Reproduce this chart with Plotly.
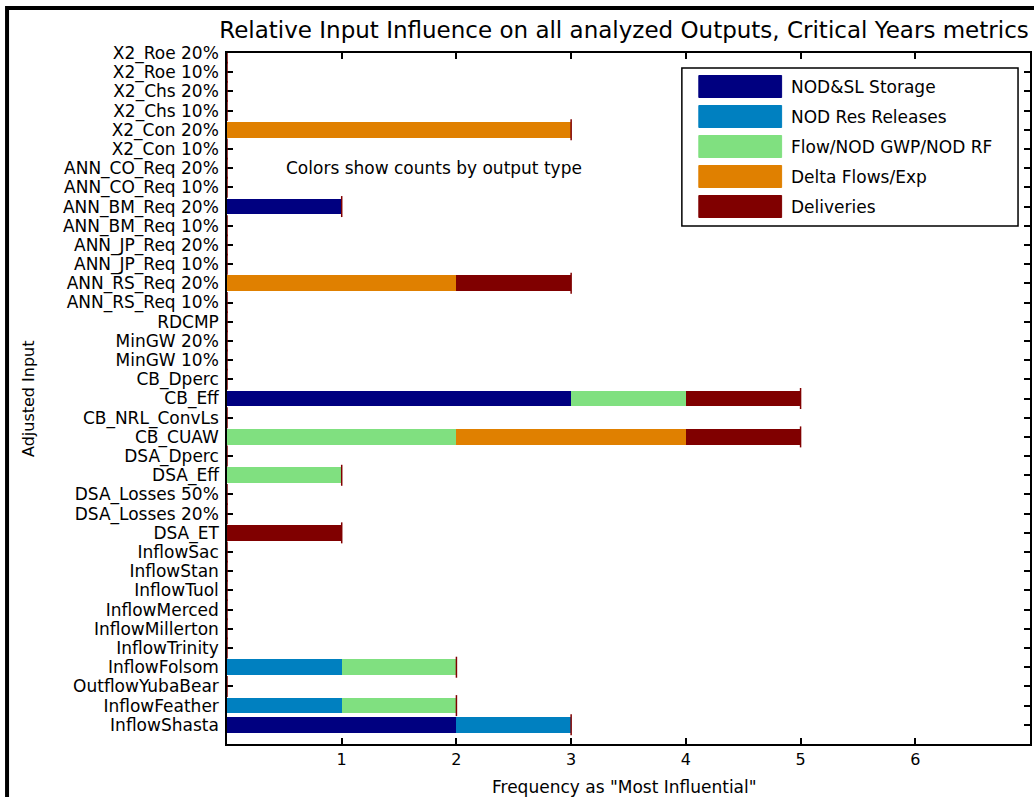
import plotly.graph_objects as go

# Adjusted inputs, listed top to bottom as they appear on the axis
inputs = [
    "X2_Roe 20%", "X2_Roe 10%", "X2_Chs 20%", "X2_Chs 10%", "X2_Con 20%", "X2_Con 10%",
    "ANN_CO_Req 20%", "ANN_CO_Req 10%", "ANN_BM_Req 20%", "ANN_BM_Req 10%",
    "ANN_JP_Req 20%", "ANN_JP_Req 10%", "ANN_RS_Req 20%", "ANN_RS_Req 10%",
    "RDCMP", "MinGW 20%", "MinGW 10%", "CB_Dperc", "CB_Eff", "CB_NRL_ConvLs", "CB_CUAW",
    "DSA_Dperc", "DSA_Eff", "DSA_Losses 50%", "DSA_Losses 20%", "DSA_ET",
    "InflowSac", "InflowStan", "InflowTuol", "InflowMerced", "InflowMillerton",
    "InflowTrinity", "InflowFolsom", "OutflowYubaBear", "InflowFeather", "InflowShasta",
]

# Counts of "most influential" per output type
storage = [0, 0, 0, 0, 0, 0, 0, 0, 1, 0, 0, 0, 0, 0, 0, 0, 0, 0, 3, 0, 0,
           0, 0, 0, 0, 0, 0, 0, 0, 0, 0, 0, 0, 0, 0, 2]
res_releases = [0, 0, 0, 0, 0, 0, 0, 0, 0, 0, 0, 0, 0, 0, 0, 0, 0, 0, 0, 0, 0,
                0, 0, 0, 0, 0, 0, 0, 0, 0, 0, 0, 1, 0, 1, 1]
flow_gwp_rf = [0, 0, 0, 0, 0, 0, 0, 0, 0, 0, 0, 0, 0, 0, 0, 0, 0, 0, 1, 0, 2,
               0, 1, 0, 0, 0, 0, 0, 0, 0, 0, 0, 1, 0, 1, 0]
delta_flows = [0, 0, 0, 0, 3, 0, 0, 0, 0, 0, 0, 0, 2, 0, 0, 0, 0, 0, 0, 0, 2,
               0, 0, 0, 0, 0, 0, 0, 0, 0, 0, 0, 0, 0, 0, 0]
deliveries = [0, 0, 0, 0, 0, 0, 0, 0, 0, 0, 0, 0, 1, 0, 0, 0, 0, 0, 1, 0, 1,
              0, 0, 0, 0, 1, 0, 0, 0, 0, 0, 0, 0, 0, 0, 0]

series_names = ["NOD&SL Storage", "NOD Res Releases", "Flow/NOD GWP/NOD RF",
                "Delta Flows/Exp", "Deliveries"]
series_values = [storage, res_releases, flow_gwp_rf, delta_flows, deliveries]
series_colors = ["#000080", "#0080C0", "#80E080", "#E08000", "#800000"]

x_ticks = [1, 2, 3, 4, 5, 6]

FONT = "DejaVu Sans"

fig = go.Figure()
for name, vals, col in zip(series_names, series_values, series_colors):
    fig.add_trace(go.Bar(
        x=vals, y=inputs, orientation="h", name=name,
        marker=dict(color=col, line=dict(width=0)),
        width=0.82, showlegend=False,
    ))

# Edge of the last (Deliveries) segment at the end of every stack
totals = [sum(v) for v in zip(*series_values)]
fig.add_trace(go.Scatter(
    x=totals, y=inputs, mode="markers", showlegend=False, hoverinfo="skip",
    marker=dict(symbol="line-ns", size=15, line=dict(width=1.5, color=series_colors[-1])),
    cliponaxis=True,
))

fig.update_layout(
    width=1034, height=797,
    margin=dict(l=227, r=2, t=53, b=53),
    paper_bgcolor="white", plot_bgcolor="white",
    barmode="stack",
    font=dict(family=FONT, size=17, color="black"),
    title=dict(
        text="Relative Input Influence on all analyzed Outputs, Critical Years metrics",
        x=624 / 1034, xanchor="center", y=1 - 30 / 797, yanchor="middle",
        font=dict(family=FONT, size=23, color="black"),
    ),
    xaxis=dict(
        range=[0, 7], tickvals=x_ticks, ticks="inside", ticklen=6, tickwidth=1.5,
        tickcolor="black", showline=True, linecolor="black", linewidth=1.5,
        mirror="ticks", showgrid=False, zeroline=False,
        tickfont=dict(family=FONT, size=16),
    ),
    yaxis=dict(
        type="category", categoryorder="array", categoryarray=inputs,
        tickmode="array", tickvals=inputs, ticktext=inputs,
        range=[36, 0], ticks="inside", ticklen=6, tickwidth=1.5,
        tickcolor="black", showline=True, linecolor="black", linewidth=1.5,
        mirror="ticks", showgrid=False, zeroline=False, layer="below traces",
        ticklabelstandoff=3,
        tickfont=dict(family=FONT, size=17),
    ),
)

# Axis titles and the note inside the plot
fig.add_annotation(
    text="Adjusted Input", textangle=-90, xref="paper", yref="paper",
    x=(28 - 227) / 805, y=0.5, xanchor="center", yanchor="middle",
    showarrow=False, font=dict(size=16),
)
fig.add_annotation(
    text='Frequency as "Most Influential"', xref="paper", yref="paper",
    x=(625 - 227) / 805, y=(744 - 787) / 691, xanchor="center", yanchor="middle",
    showarrow=False, font=dict(size=17),
)
fig.add_annotation(
    text="Colors show counts by output type", xref="x", yref="y",
    x=0.5, y="ANN_CO_Req 20%", xanchor="left", showarrow=False, font=dict(size=17),
)

# Legend box with wide colour swatches
def px_x(px):
    return (px - 227) / 805

def px_y(py):
    return (744 - py) / 691

shapes = [
    dict(type="rect", xref="paper", yref="paper",
         x0=px_x(683), x1=px_x(1020), y0=px_y(226), y1=px_y(68),
         line=dict(color="black", width=1.5), fillcolor="white", layer="above"),
    # figure frame
    dict(type="rect", xref="paper", yref="paper",
         x0=px_x(6.5), x1=px_x(1100), y0=px_y(900), y1=px_y(8),
         line=dict(color="black", width=4), fillcolor="rgba(0,0,0,0)", layer="above"),
]
for i, (name, col) in enumerate(zip(series_names, series_colors)):
    cy = 86.5 + 30 * i
    shapes.append(dict(
        type="rect", xref="paper", yref="paper",
        x0=px_x(700), x1=px_x(783), y0=px_y(cy + 11), y1=px_y(cy - 11),
        line=dict(color=col, width=1), fillcolor=col, layer="above",
    ))
    fig.add_annotation(
        text=name, xref="paper", yref="paper", x=px_x(790), y=px_y(cy),
        xanchor="left", yanchor="middle", showarrow=False, font=dict(size=17),
    )
fig.update_layout(shapes=shapes)

fig.write_html("out.html")
